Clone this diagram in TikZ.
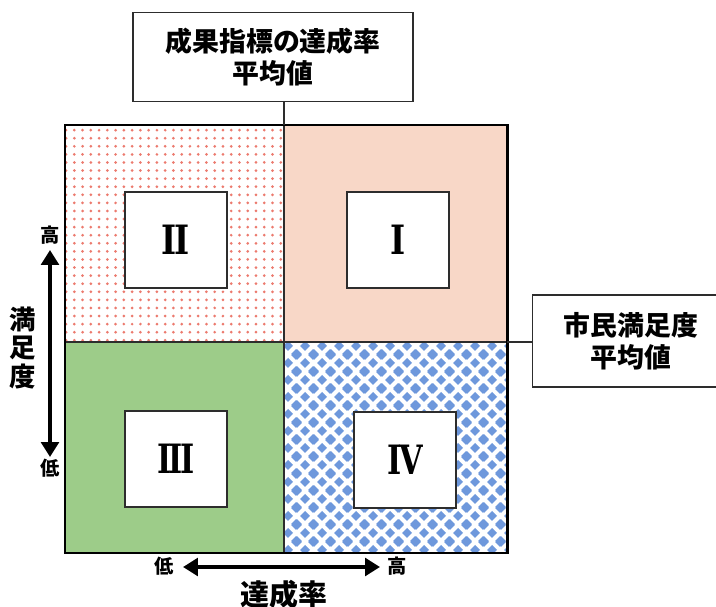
\documentclass[tikz,border=0pt]{standalone}
\usepackage{fontspec}
\newfontfamily\jp{Noto Sans CJK JP}[BoldFont={Noto Sans CJK JP Black}]
\newfontfamily\numfont{DejaVu Serif}
\usepackage{tikz}
\usetikzlibrary{arrows.meta,calc,patterns,positioning}
\definecolor{salmon}{RGB}{248,215,199}
\definecolor{leafgreen}{RGB}{157,204,137}
\definecolor{dotred}{RGB}{236,122,110}
\definecolor{checkblue}{RGB}{110,152,220}
\definecolor{boxgray}{RGB}{45,45,45}
\newcommand\diamondat[2]{%
\pgfpathmoveto{\pgfpoint{#1-2.9pt}{#2}}%
\pgfpathlineto{\pgfpoint{#1}{#2-2.9pt}}%
\pgfpathlineto{\pgfpoint{#1+2.9pt}{#2}}%
\pgfpathlineto{\pgfpoint{#1}{#2+2.9pt}}%
\pgfpathclose}
\pgfdeclarepatternformonly{sparse dots}{\pgfqpoint{-1.2pt}{-1.2pt}}{\pgfqpoint{1.2pt}{1.2pt}}{\pgfqpoint{4.7pt}{4.6pt}}{\pgfpathcircle{\pgfqpoint{0pt}{0pt}}{0.85pt}\pgfusepath{fill}}
\pgfdeclarepatternformonly{diamond grid}{\pgfqpoint{0pt}{0pt}}{\pgfqpoint{9.4pt}{9.4pt}}{\pgfqpoint{9.4pt}{9.4pt}}{%
\diamondat{0pt}{0pt}\diamondat{9.4pt}{0pt}\diamondat{0pt}{9.4pt}\diamondat{9.4pt}{9.4pt}\diamondat{4.7pt}{4.7pt}\pgfusepath{fill}}

\begin{document}
\begin{tikzpicture}[x=0.02cm,y=-0.02cm,
quadbox/.style={draw=boxgray,line width=1.4pt,fill=white,minimum width=2.04cm,minimum height=1.92cm,inner sep=0pt,font=\numfont\bfseries\fontsize{23}{23}\selectfont},
meanbox/.style={draw=boxgray,line width=0.9pt,fill=white,align=center,inner sep=0pt,font=\jp\bfseries\fontsize{15.3}{18}\selectfont},
bigarrow/.style={line width=2.3pt,{Triangle[length=8.5pt,width=10pt]}-{Triangle[length=8.5pt,width=10pt]}},
small/.style={font=\jp\bfseries\fontsize{11}{11}\selectfont,inner sep=0pt},
axislabel/.style={font=\jp\bfseries\fontsize{15}{16}\selectfont,align=center,inner sep=0pt}]
\clip (0,0) rectangle (716,607);
\coordinate (A) at (65,125);
\coordinate (C) at (507,553);
\coordinate (M) at (284,342);
\fill[white] (A) rectangle (M);
\fill[pattern=sparse dots,pattern color=dotred] (A) rectangle (M);
\fill[salmon] (A -| M) rectangle (M -| C);
\fill[leafgreen] (A |- M) rectangle (M |- C);
\fill[white] (M) rectangle (C);
\fill[pattern=diamond grid,pattern color=checkblue] (M) rectangle (C);
\draw[boxgray,line width=0.6pt] (A -| M) -- (M |- C) (A |- M) -- (M -| C);
\draw[line width=1.7pt] (A) rectangle (C);
\node[quadbox] (q1) at (398,240) {\scalebox{0.8}[1]{I}};
\node[quadbox] (q2) at (176,240) {\scalebox{0.8}[1]{I\kern-1.5pt I}};
\node[quadbox] (q3) at (176,459) {\scalebox{0.75}[1]{I\kern-2pt I\kern-2pt I}};
\node[quadbox] (q4) at (405,460) {\scalebox{0.75}[1]{I\kern-2pt V}};
\node[meanbox,minimum width=5.6cm,minimum height=1.78cm] (meanrate) at (273,57) {成果指標の達成率\\平均値};
\node[meanbox,minimum width=3.94cm,minimum height=1.84cm] (meansat) at (631,341) {市民満足度\\平均値};
\draw[boxgray,line width=0.8pt] (meanrate.south -| M) -- (A -| M);
\draw[boxgray,line width=0.8pt] (M -| C) -- (M -| meansat.west);
\node[small] (hiV) at (50,235) {高};
\node[small] (loV) at (50,468) {低};
\coordinate (vtop) at (50,250);
\coordinate (vbot) at (50,457);
\draw[bigarrow] (vtop) -- (vbot);
\node[axislabel,font=\jp\bfseries\fontsize{15}{16}\selectfont] (satlabel) at (23,348) {満\\足\\度};
\node[small] (loH) at (164,566) {低};
\node[small] (hiH) at (397,566) {高};
\coordinate (hleft) at (183,567);
\coordinate (hright) at (380,567);
\draw[bigarrow] (hleft) -- (hright);
\node[axislabel,font=\jp\bfseries\fontsize{16.5}{16.5}\selectfont] (ratelabel) at (284,594) {達成率};
\end{tikzpicture}
\end{document}
